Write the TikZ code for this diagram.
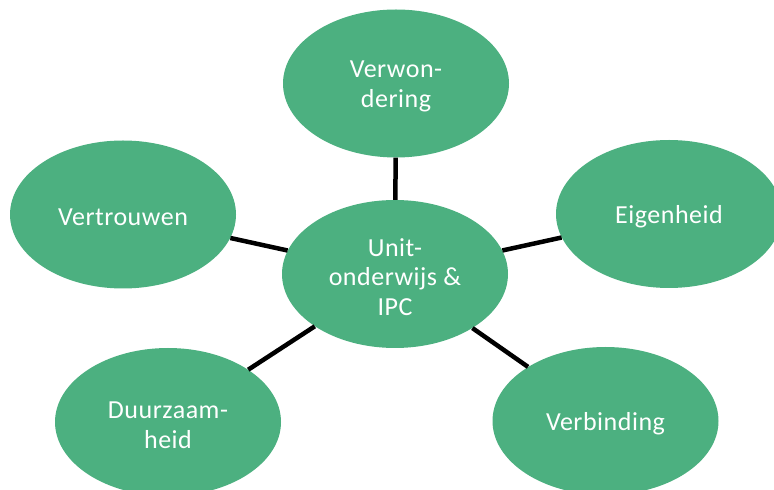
\documentclass[tikz,border=0pt]{standalone}
\usepackage{fontspec}
\setmainfont{Carlito}[LetterSpace=2]
\usetikzlibrary{shapes.geometric}
\definecolor{leaf}{RGB}{76,176,128}
\tikzset{
  bubble/.style={ellipse, fill=leaf, draw=none, minimum width=226pt, minimum height=148pt,
    inner sep=0pt},
  lbl/.style={align=center, text=white, inner sep=0pt, yshift=-3pt,
    font=\fontsize{26}{29.5}\selectfont},
  link/.style={line width=4.5pt, black}
}
\begin{document}
\begin{tikzpicture}[x=1pt,y=1pt]
\clip (0,0) rectangle (774,490);
\fill[white] (0,0) rectangle (774,490);
\node[bubble] (top) at (396,406.5) {};
\node[bubble] (left) at (123,275.5) {};
\node[bubble] (right) at (669,276) {};
\node[bubble] (bl) at (168,68) {};
\node[bubble] (br) at (605.5,69) {};
\node[bubble] (c) at (395,216) {};
\node[lbl] (ttop) at (top) {Verwon-\\dering};
\node[lbl] (tleft) at (left) {Vertrouwen};
\node[lbl] (tright) at (right) {Eigenheid};
\node[lbl] (tbl) at (bl) {Duurzaam-\\heid};
\node[lbl] (tbr) at (br) {Verbinding};
\node[lbl] (tc) at (c) {Unit-\\onderwijs \&\\IPC};
\draw[link] (c) -- (top);
\draw[link] (c) -- (left);
\draw[link] (c) -- (right);
\draw[link] (c) -- (bl);
\draw[link] (c) -- (br);
\end{tikzpicture}
\end{document}
